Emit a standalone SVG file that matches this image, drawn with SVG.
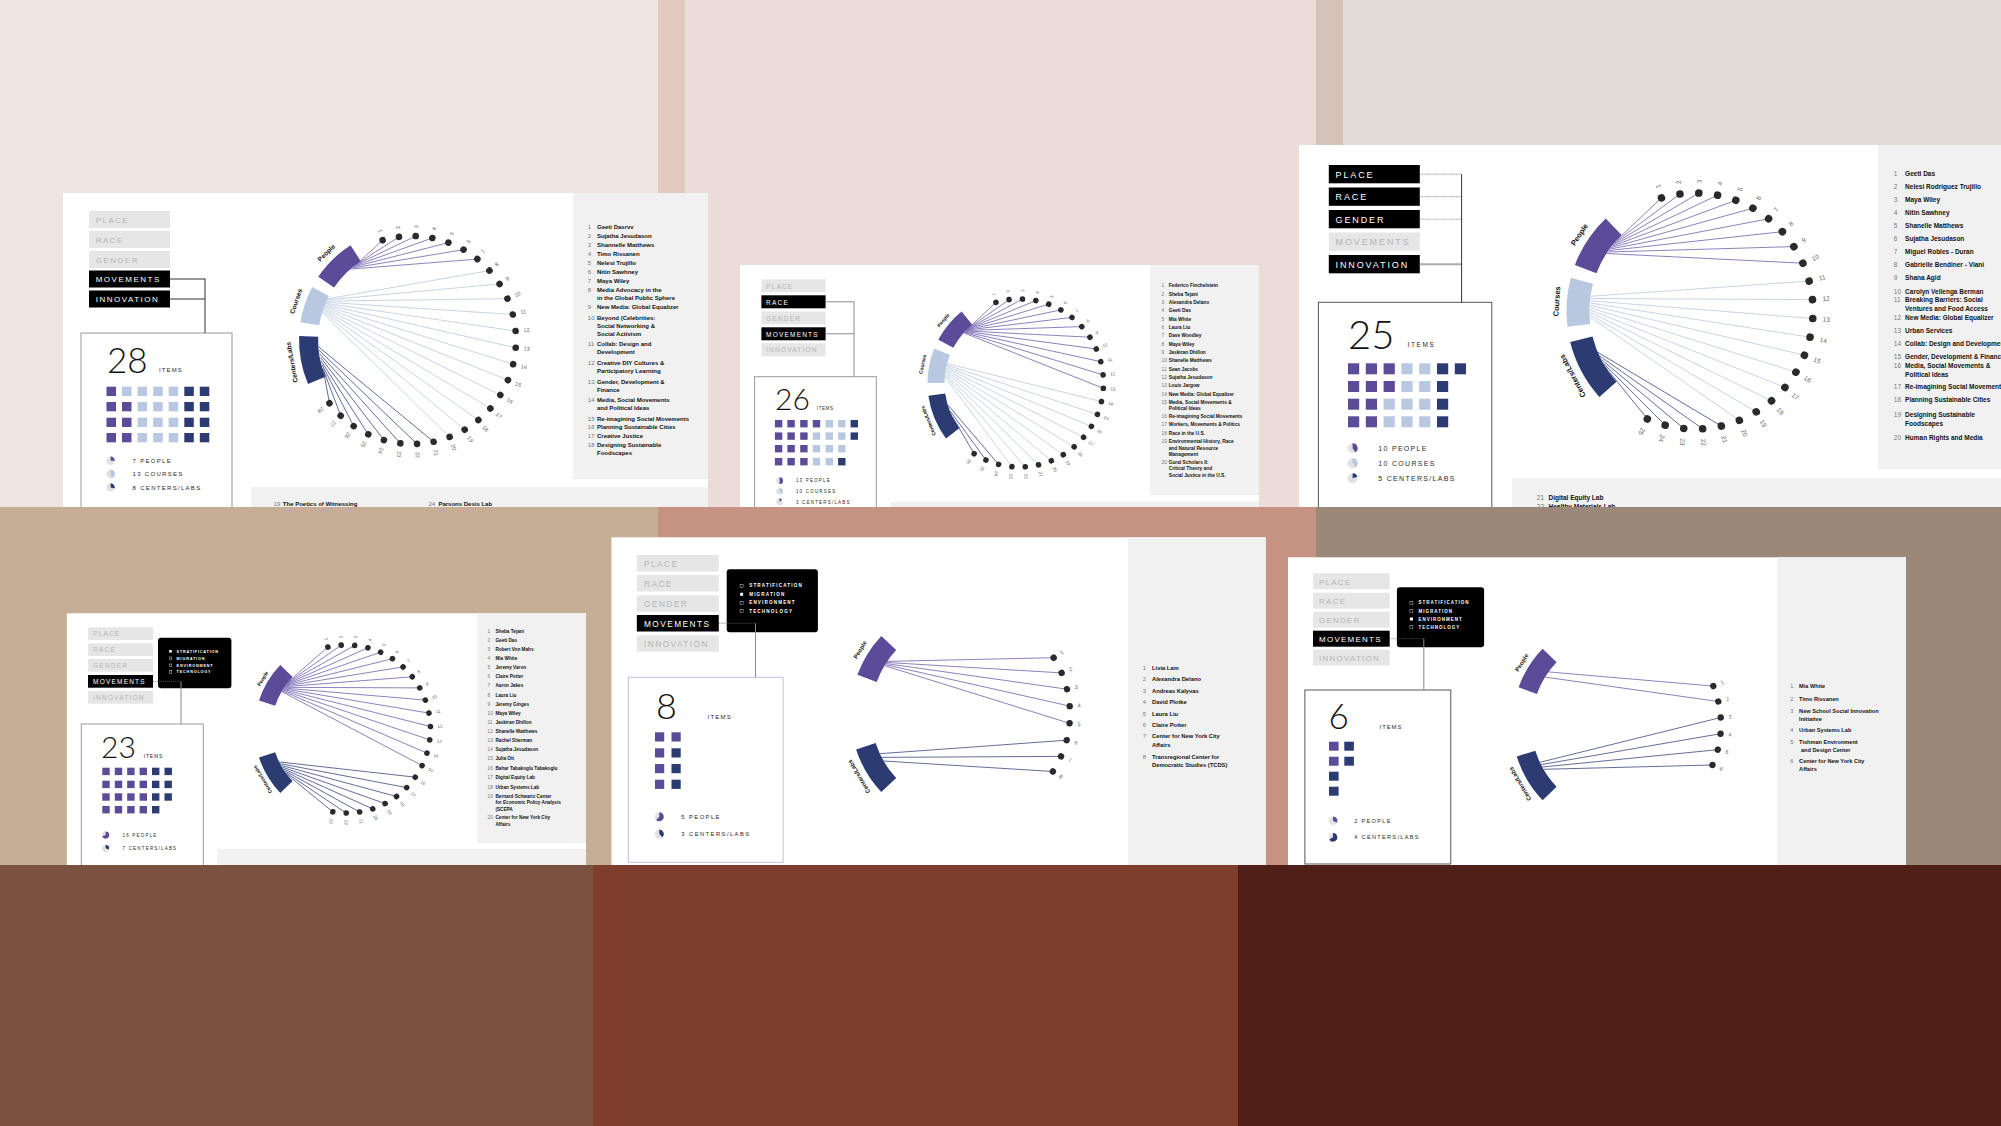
<svg xmlns="http://www.w3.org/2000/svg" width="2001" height="1126" viewBox="0 0 2001 1126">
<defs>
<clipPath id="ct"><rect x="0" y="0" width="2001" height="507"/></clipPath>
<clipPath id="cb"><rect x="0" y="0" width="2001" height="865"/></clipPath>
<style>
text{font-family:"Liberation Sans",Arial,sans-serif}
.gp{fill:#f1f1f1}
.bi{fill:#e6e6e6}
.ba{fill:#000}
.ti{fill:#b4b4b4}
.ta{fill:#fff}
.big{font-family:Lato,"Open Sans",sans-serif;font-weight:300;fill:#111}
.lg{fill:#2a2a2a}
.li{font-weight:bold;fill:#111}
.ln{fill:#777}
.P{fill:#5b4b98}.C{fill:#b7c8e0}.D{fill:#2c3c72}
.pb{fill:#e2e2e2}
.lp{stroke:#6f62ad;stroke-width:.8;fill:none}
.lc{stroke:#b9c9df;stroke-width:.8;fill:none}
.ld{stroke:#3a4882;stroke-width:.8;fill:none}
.cn{stroke:#333;stroke-width:1;fill:none}
.cg{stroke:#8a8a8a;stroke-width:1;fill:none}
.cd{stroke:#666;stroke-width:.8;stroke-dasharray:1 1;fill:none}
.nd circle{fill:#2a2a2a}
.nd text{fill:#666}
.al{font-weight:bold;fill:#111;text-anchor:middle}
.pt{fill:#fff;font-weight:bold}
.ck{fill:none;stroke:#fff;stroke-width:.4}
</style>
</defs>

<g id="background">
<rect x="0" y="0" width="658" height="507" fill="#efe5e0"/>
<rect x="658" y="0" width="27" height="507" fill="#e1c9bf"/>
<rect x="685" y="0" width="631" height="507" fill="#ecdcd8"/>
<rect x="1316" y="0" width="27" height="507" fill="#d5c3ba"/>
<rect x="1343" y="0" width="658" height="507" fill="#e0dbd5"/>
<rect x="0" y="507" width="658" height="358" fill="#c6ad96"/>
<rect x="658" y="507" width="658" height="358" fill="#c69282"/>
<rect x="1316" y="507" width="685" height="358" fill="#9c8878"/>
<rect x="0" y="865" width="593" height="261" fill="#7b5140"/>
<rect x="593" y="865" width="645" height="261" fill="#7e3d2d"/>
<rect x="1238" y="865" width="763" height="261" fill="#4e2018"/>
</g>

<!-- CARD 1 -->
<g id="card-1" clip-path="url(#ct)">
<rect x="63" y="193" width="645" height="320" fill="#fff"/>
<rect class="gp" x="573" y="193" width="135" height="286"/>
<rect class="gp" x="251" y="487" width="457" height="30"/>
<g font-size="8" letter-spacing="1.5">
<rect class="bi" x="89" y="211" width="81" height="17"/><text class="ti" x="95.7" y="222.5">PLACE</text>
<rect class="bi" x="89" y="231" width="81" height="17"/><text class="ti" x="95.7" y="242.5">RACE</text>
<rect class="bi" x="89" y="251" width="81" height="17"/><text class="ti" x="95.7" y="262.5">GENDER</text>
<rect class="ba" x="89" y="270.5" width="81" height="17"/><text class="ta" x="95.7" y="282">MOVEMENTS</text>
<rect class="ba" x="89" y="290.5" width="81" height="17"/><text class="ta" x="95.7" y="302">INNOVATION</text>
</g>
<rect x="81" y="333" width="151" height="200" fill="#fff" stroke="#999"/>
<text class="big" x="107" y="373" font-size="35">28</text>
<text class="lg" x="159" y="372" font-size="6" letter-spacing="1.1">ITEMS</text>
<g>
<rect class="P" x="106.5" y="386.7" width="9.5" height="9.3"/><rect class="C" x="122" y="386.7" width="9.5" height="9.3"/><rect class="C" x="137.6" y="386.7" width="9.5" height="9.3"/><rect class="C" x="153.2" y="386.7" width="9.5" height="9.3"/><rect class="C" x="168.7" y="386.7" width="9.5" height="9.3"/><rect class="D" x="184.3" y="386.7" width="9.5" height="9.3"/><rect class="D" x="199.8" y="386.7" width="9.5" height="9.3"/>
<rect class="P" x="106.5" y="402" width="9.5" height="9.3"/><rect class="P" x="122" y="402" width="9.5" height="9.3"/><rect class="C" x="137.6" y="402" width="9.5" height="9.3"/><rect class="C" x="153.2" y="402" width="9.5" height="9.3"/><rect class="C" x="168.7" y="402" width="9.5" height="9.3"/><rect class="D" x="184.3" y="402" width="9.5" height="9.3"/><rect class="D" x="199.8" y="402" width="9.5" height="9.3"/>
<rect class="P" x="106.5" y="417.7" width="9.5" height="9.3"/><rect class="P" x="122" y="417.7" width="9.5" height="9.3"/><rect class="C" x="137.6" y="417.7" width="9.5" height="9.3"/><rect class="C" x="153.2" y="417.7" width="9.5" height="9.3"/><rect class="C" x="168.7" y="417.7" width="9.5" height="9.3"/><rect class="D" x="184.3" y="417.7" width="9.5" height="9.3"/><rect class="D" x="199.8" y="417.7" width="9.5" height="9.3"/>
<rect class="P" x="106.5" y="433" width="9.5" height="9.3"/><rect class="P" x="122" y="433" width="9.5" height="9.3"/><rect class="C" x="137.6" y="433" width="9.5" height="9.3"/><rect class="C" x="153.2" y="433" width="9.5" height="9.3"/><rect class="C" x="168.7" y="433" width="9.5" height="9.3"/><rect class="D" x="184.3" y="433" width="9.5" height="9.3"/><rect class="D" x="199.8" y="433" width="9.5" height="9.3"/>
</g>
<g transform="translate(110.6,460.7)"><circle class="pb" r="4.2"/><path class="P" d="M0,0 L0,-4.2 A4.2,4.2 0 0 1 4.2,0 Z"/></g>
<g transform="translate(110.6,474)"><circle class="pb" r="4.2"/><path class="C" d="M0,0 L0,-4.2 A4.2,4.2 0 0 1 0.95,4.09 Z"/></g>
<g transform="translate(110.6,487.5)"><circle class="pb" r="4.2"/><path class="D" d="M0,0 L0,-4.2 A4.2,4.2 0 0 1 4.09,0.95 Z"/></g>
<g class="lg" font-size="6" letter-spacing="1.3">
<text x="132.6" y="463">7 PEOPLE</text>
<text x="132.6" y="476.3">13 COURSES</text>
<text x="132.6" y="489.7">8 CENTERS/LABS</text>
</g>
<path class="P" d="M318.3,276.8 A113,113 0 0 1 350.5,245.2 L360.8,261.2 A94,94 0 0 0 334.1,287.4 Z"/>
<path class="C" d="M300.4,322.3 A113,113 0 0 1 312.2,286.9 L329,295.9 A94,94 0 0 0 319.2,325.3 Z"/>
<path class="D" d="M308,384.1 A113,113 0 0 1 299.1,336.1 L318.1,336.7 A94,94 0 0 0 325.5,376.7 Z"/>
<g transform="translate(412,340)" font-size="6.5">
<text class="al" transform="rotate(225.5) translate(120,0) rotate(90)">People</text>
<text class="al" transform="rotate(198.5) translate(120,0) rotate(90)">Courses</text>
<text class="al" transform="rotate(169.5) translate(120,0) rotate(90)">Centers/Labs</text>
</g>
<g font-size="6">
<text class="ln" x="587.8" y="228.7">1</text><text class="li" x="597" y="228.7">Geeti Dasrvv</text>
<text class="ln" x="587.8" y="237.7">2</text><text class="li" x="597" y="237.7">Sujatha Jesudason</text>
<text class="ln" x="587.8" y="246.7">3</text><text class="li" x="597" y="246.7">Shannelle Matthews</text>
<text class="ln" x="587.8" y="255.7">4</text><text class="li" x="597" y="255.7">Timo Rissanen</text>
<text class="ln" x="587.8" y="264.7">5</text><text class="li" x="597" y="264.7">Nelesi Trujillo</text>
<text class="ln" x="587.8" y="273.7">6</text><text class="li" x="597" y="273.7">Nitin Sawhney</text>
<text class="ln" x="587.8" y="282.7">7</text><text class="li" x="597" y="282.7">Maya Wiley</text>
<text class="ln" x="587.8" y="291.7">8</text><text class="li" x="597" y="291.7">Media Advocacy in the</text><text class="li" x="597" y="299.7">in the Global Public Sphere</text>
<text class="ln" x="587.8" y="309.3">9</text><text class="li" x="597" y="309.3">New Media: Global Equalizer</text>
<text class="ln" x="587.8" y="319.7">10</text><text class="li" x="597" y="319.7">Beyond (Celebrities:</text><text class="li" x="597" y="327.7">Social Networking &amp;</text><text class="li" x="597" y="335.7">Social Activism</text>
<text class="ln" x="587.8" y="346.3">11</text><text class="li" x="597" y="346.3">Collab: Design and</text><text class="li" x="597" y="354.3">Development</text>
<text class="ln" x="587.8" y="365">12</text><text class="li" x="597" y="365">Creative DIY Cultures &amp;</text><text class="li" x="597" y="373">Participatory Learning</text>
<text class="ln" x="587.8" y="383.7">13</text><text class="li" x="597" y="383.7">Gender, Development &amp;</text><text class="li" x="597" y="391.7">Finance</text>
<text class="ln" x="587.8" y="402">14</text><text class="li" x="597" y="402">Media, Social Movements</text><text class="li" x="597" y="410">and Political Ideas</text>
<text class="ln" x="587.8" y="420.7">15</text><text class="li" x="597" y="420.7">Re-imagining Social Movements</text>
<text class="ln" x="587.8" y="429.3">16</text><text class="li" x="597" y="429.3">Planning Sustainable Cities</text>
<text class="ln" x="587.8" y="438.3">17</text><text class="li" x="597" y="438.3">Creative Justice</text>
<text class="ln" x="587.8" y="447.3">18</text><text class="li" x="597" y="447.3">Designing Sustainable</text><text class="li" x="597" y="455.3">Foodscapes</text>
<text class="ln" x="273.7" y="506.3">19</text><text class="li" x="282.8" y="506.3">The Poetics of Witnessing</text>
<text class="ln" x="428.5" y="506.3">24</text><text class="li" x="438.4" y="506.3">Parsons Desis Lab</text>
</g>
</g>

<!-- CARD 2 -->
<g id="card-2" clip-path="url(#ct)">
<rect x="740" y="265" width="519" height="250" fill="#fff"/>
<rect class="gp" x="1150" y="265" width="109" height="230"/>
<rect class="gp" x="890.5" y="501.7" width="368.5" height="10"/>
<g font-size="6.5" letter-spacing="1.2">
<rect class="bi" x="761.4" y="279.3" width="64.2" height="13"/><text class="ti" x="766.1" y="288.5">PLACE</text>
<rect class="ba" x="761.4" y="295.3" width="64.2" height="13"/><text class="ta" x="766.1" y="304.5">RACE</text>
<rect class="bi" x="761.4" y="311.4" width="64.2" height="13"/><text class="ti" x="766.1" y="320.6">GENDER</text>
<rect class="ba" x="761.4" y="327.3" width="64.2" height="13"/><text class="ta" x="766.1" y="336.5">MOVEMENTS</text>
<rect class="bi" x="761.4" y="343.2" width="64.2" height="13"/><text class="ti" x="766.1" y="352.4">INNOVATION</text>
</g>
<rect x="754.6" y="376.7" width="121.7" height="140" fill="#fff" stroke="#999"/>
<text class="big" x="775" y="410" font-size="30">26</text>
<text class="lg" x="816.8" y="409.5" font-size="4.5" letter-spacing="0.6">ITEMS</text>
<g>
<rect class="P" x="774.9" y="420" width="7.4" height="7.4"/><rect class="P" x="787.4" y="420" width="7.4" height="7.4"/><rect class="P" x="800.2" y="420" width="7.4" height="7.4"/><rect class="P" x="812.8" y="420" width="7.4" height="7.4"/><rect class="C" x="825.6" y="420" width="7.4" height="7.4"/><rect class="C" x="838.1" y="420" width="7.4" height="7.4"/><rect class="D" x="850.6" y="420" width="7.4" height="7.4"/>
<rect class="P" x="774.9" y="432.4" width="7.4" height="7.4"/><rect class="P" x="787.4" y="432.4" width="7.4" height="7.4"/><rect class="P" x="800.2" y="432.4" width="7.4" height="7.4"/><rect class="C" x="812.8" y="432.4" width="7.4" height="7.4"/><rect class="C" x="825.6" y="432.4" width="7.4" height="7.4"/><rect class="C" x="838.1" y="432.4" width="7.4" height="7.4"/><rect class="D" x="850.6" y="432.4" width="7.4" height="7.4"/>
<rect class="P" x="774.9" y="445" width="7.4" height="7.4"/><rect class="P" x="787.4" y="445" width="7.4" height="7.4"/><rect class="P" x="800.2" y="445" width="7.4" height="7.4"/><rect class="C" x="812.8" y="445" width="7.4" height="7.4"/><rect class="C" x="825.6" y="445" width="7.4" height="7.4"/><rect class="C" x="838.1" y="445" width="7.4" height="7.4"/>
<rect class="P" x="774.9" y="458" width="7.4" height="7.4"/><rect class="P" x="787.4" y="458" width="7.4" height="7.4"/><rect class="P" x="800.2" y="458" width="7.4" height="7.4"/><rect class="C" x="812.8" y="458" width="7.4" height="7.4"/><rect class="C" x="825.6" y="458" width="7.4" height="7.4"/><rect class="D" x="838.1" y="458" width="7.4" height="7.4"/>
</g>
<g transform="translate(779.6,480.7)"><circle class="pb" r="3.4"/><path class="P" d="M0,0 L0,-3.4 A3.4,3.4 0 0 1 0,3.4 Z"/></g>
<g transform="translate(779.6,491.3)"><circle class="pb" r="3.4"/><path class="C" d="M0,0 L0,-3.4 A3.4,3.4 0 0 1 2.27,2.53 Z"/></g>
<g transform="translate(779.6,502)"><circle class="pb" r="3.4"/><path class="D" d="M0,0 L0,-3.4 A3.4,3.4 0 0 1 2.25,-2.55 Z"/></g>
<g class="lg" font-size="4.5" letter-spacing="1.2">
<text x="795.9" y="482.4">13 PEOPLE</text>
<text x="795.9" y="493">10 COURSES</text>
<text x="795.9" y="503.7">3 CENTERS/LABS</text>
</g>
<path class="P" d="M938.3,339.8 A92,92 0 0 1 961.6,311.5 L972.3,324.7 A75,75 0 0 0 953.3,347.8 Z"/>
<path class="C" d="M927.5,383 A92,92 0 0 1 934.2,348.5 L950,354.9 A75,75 0 0 0 944.5,383 Z"/>
<path class="D" d="M946,438.4 A92,92 0 0 1 928.4,395.8 L945.2,393.4 A75,75 0 0 0 959.6,428.1 Z"/>
<g transform="translate(1019.5,383)" font-size="5">
<text class="al" transform="rotate(219.5) translate(97,0) rotate(90)">People</text>
<text class="al" transform="rotate(191) translate(97,0) rotate(90)">Courses</text>
<text class="al" transform="rotate(157.5) translate(97,0) rotate(90)">Centers/Labs</text>
</g>
<g font-size="4.8">
<text class="ln" x="1161.6" y="287.3">1</text><text class="li" x="1168.7" y="287.3">Federico Finchelstein</text>
<text class="ln" x="1161.6" y="295.6">2</text><text class="li" x="1168.7" y="295.6">Sheba Tejani</text>
<text class="ln" x="1161.6" y="303.9">3</text><text class="li" x="1168.7" y="303.9">Alexandra Delano</text>
<text class="ln" x="1161.6" y="312.3">4</text><text class="li" x="1168.7" y="312.3">Geeti Das</text>
<text class="ln" x="1161.6" y="320.6">5</text><text class="li" x="1168.7" y="320.6">Mia White</text>
<text class="ln" x="1161.6" y="328.9">6</text><text class="li" x="1168.7" y="328.9">Laura Liu</text>
<text class="ln" x="1161.6" y="337.3">7</text><text class="li" x="1168.7" y="337.3">Dave Woodley</text>
<text class="ln" x="1161.6" y="345.6">8</text><text class="li" x="1168.7" y="345.6">Maya Wiley</text>
<text class="ln" x="1161.6" y="353.9">9</text><text class="li" x="1168.7" y="353.9">Jaskiran Dhillon</text>
<text class="ln" x="1161.6" y="362.3">10</text><text class="li" x="1168.7" y="362.3">Shanelle Matthews</text>
<text class="ln" x="1161.6" y="370.6">11</text><text class="li" x="1168.7" y="370.6">Sean Jacobs</text>
<text class="ln" x="1161.6" y="378.9">12</text><text class="li" x="1168.7" y="378.9">Sujatha Jesudason</text>
<text class="ln" x="1161.6" y="387.3">13</text><text class="li" x="1168.7" y="387.3">Louis Jargow</text>
<text class="ln" x="1161.6" y="395.9">14</text><text class="li" x="1168.7" y="395.9">New Media: Global Equalizer</text>
<text class="ln" x="1161.6" y="403.6">15</text><text class="li" x="1168.7" y="403.6">Media, Social Movements &amp;</text><text class="li" x="1168.7" y="410.3">Political Ideas</text>
<text class="ln" x="1161.6" y="417.9">16</text><text class="li" x="1168.7" y="417.9">Re-imagining Social Movements</text>
<text class="ln" x="1161.6" y="426.3">17</text><text class="li" x="1168.7" y="426.3">Workers, Movements &amp; Politics</text>
<text class="ln" x="1161.6" y="434.6">18</text><text class="li" x="1168.7" y="434.6">Race in the U.S.</text>
<text class="ln" x="1161.6" y="442.9">19</text><text class="li" x="1168.7" y="442.9">Environmental History, Race</text><text class="li" x="1168.7" y="449.6">and Natural Resource</text><text class="li" x="1168.7" y="456.3">Management</text>
<text class="ln" x="1161.6" y="463.6">20</text><text class="li" x="1168.7" y="463.6">Gural Scholars II:</text><text class="li" x="1168.7" y="470.3">Critical Theory and</text><text class="li" x="1168.7" y="476.9">Social Justice in the U.S.</text>
</g>
</g>

<!-- CARD 3 -->
<g id="card-3" clip-path="url(#ct)">
<rect x="1299" y="145" width="702" height="370" fill="#fff"/>
<rect class="gp" x="1878" y="145" width="123" height="324.3"/>
<rect class="gp" x="1512" y="478.3" width="489" height="35"/>
<g font-size="9" letter-spacing="1.9">
<rect class="ba" x="1328.8" y="165" width="91" height="18.3"/><text class="ta" x="1335.5" y="177.7">PLACE</text>
<rect class="ba" x="1328.8" y="187.5" width="91" height="18.3"/><text class="ta" x="1335.5" y="200.2">RACE</text>
<rect class="ba" x="1328.8" y="210" width="91" height="18.3"/><text class="ta" x="1335.5" y="222.7">GENDER</text>
<rect class="bi" x="1328.8" y="232.5" width="91" height="18.3"/><text class="ti" x="1335.5" y="245.2">MOVEMENTS</text>
<rect class="ba" x="1328.8" y="255" width="91" height="18.3"/><text class="ta" x="1335.5" y="267.7">INNOVATION</text>
</g>
<rect x="1318.4" y="302.3" width="173.4" height="220" fill="#fff" stroke="#555"/>
<text class="big" x="1348" y="349.3" font-size="40">25</text>
<text class="lg" x="1407.6" y="346.7" font-size="6.5" letter-spacing="1.6">ITEMS</text>
<g>
<rect class="P" x="1348" y="363.3" width="11.2" height="11"/><rect class="P" x="1365.8" y="363.3" width="11.2" height="11"/><rect class="P" x="1383.6" y="363.3" width="11.2" height="11"/><rect class="C" x="1401.4" y="363.3" width="11.2" height="11"/><rect class="C" x="1419.2" y="363.3" width="11.2" height="11"/><rect class="D" x="1437" y="363.3" width="11.2" height="11"/><rect class="D" x="1454.8" y="363.3" width="11.2" height="11"/>
<rect class="P" x="1348" y="381" width="11.2" height="11"/><rect class="P" x="1365.8" y="381" width="11.2" height="11"/><rect class="P" x="1383.6" y="381" width="11.2" height="11"/><rect class="C" x="1401.4" y="381" width="11.2" height="11"/><rect class="C" x="1419.2" y="381" width="11.2" height="11"/><rect class="D" x="1437" y="381" width="11.2" height="11"/>
<rect class="P" x="1348" y="398.7" width="11.2" height="11"/><rect class="P" x="1365.8" y="398.7" width="11.2" height="11"/><rect class="C" x="1383.6" y="398.7" width="11.2" height="11"/><rect class="C" x="1401.4" y="398.7" width="11.2" height="11"/><rect class="C" x="1419.2" y="398.7" width="11.2" height="11"/><rect class="D" x="1437" y="398.7" width="11.2" height="11"/>
<rect class="P" x="1348" y="416.3" width="11.2" height="11"/><rect class="P" x="1365.8" y="416.3" width="11.2" height="11"/><rect class="C" x="1383.6" y="416.3" width="11.2" height="11"/><rect class="C" x="1401.4" y="416.3" width="11.2" height="11"/><rect class="C" x="1419.2" y="416.3" width="11.2" height="11"/><rect class="D" x="1437" y="416.3" width="11.2" height="11"/>
</g>
<g transform="translate(1352.6,448.3)"><circle class="pb" r="5"/><path class="P" d="M0,0 L0,-5 A5,5 0 0 1 2.94,4.05 Z"/></g>
<g transform="translate(1352.6,463.3)"><circle class="pb" r="5"/><path class="C" d="M0,0 L0,-5 A5,5 0 0 1 2.94,4.05 Z"/></g>
<g transform="translate(1352.6,478.3)"><circle class="pb" r="5"/><path class="D" d="M0,0 L0,-5 A5,5 0 0 1 4.76,-1.55 Z"/></g>
<g class="lg" font-size="7" letter-spacing="1.3">
<text x="1378.3" y="450.8">10 PEOPLE</text>
<text x="1378.3" y="465.8">10 COURSES</text>
<text x="1378.3" y="480.8">5 CENTERS/LABS</text>
</g>
<path class="P" d="M1574.9,264.9 A128.6,128.6 0 0 1 1605.7,218.5 L1621.6,235 A105.6,105.6 0 0 0 1596.4,273.2 Z"/>
<path class="C" d="M1567.4,326.7 A128.6,128.6 0 0 1 1570.8,277.7 L1593,283.7 A105.6,105.6 0 0 0 1590.2,323.9 Z"/>
<path class="D" d="M1599.4,397 A128.6,128.6 0 0 1 1570.2,342.1 L1592.5,336.5 A105.6,105.6 0 0 0 1616.5,381.7 Z"/>
<g transform="translate(1695,311)" font-size="7.5">
<text class="al" transform="rotate(213.5) translate(136,0) rotate(90)">People</text>
<text class="al" transform="rotate(184) translate(136,0) rotate(90)">Courses</text>
<text class="al" transform="rotate(152) translate(136,0) rotate(90)">Centers/Labs</text>
</g>
<g font-size="6.5">
<text class="ln" x="1893.8" y="175.6">1</text><text class="li" x="1905.1" y="175.6">Geeti Das</text>
<text class="ln" x="1893.8" y="188.6">2</text><text class="li" x="1905.1" y="188.6">Nelesi Rodriguez Trujillo</text>
<text class="ln" x="1893.8" y="202">3</text><text class="li" x="1905.1" y="202">Maya Wiley</text>
<text class="ln" x="1893.8" y="215">4</text><text class="li" x="1905.1" y="215">Nitin Sawhney</text>
<text class="ln" x="1893.8" y="228">5</text><text class="li" x="1905.1" y="228">Shanelle Matthews</text>
<text class="ln" x="1893.8" y="241">6</text><text class="li" x="1905.1" y="241">Sujatha Jesudason</text>
<text class="ln" x="1893.8" y="254.3">7</text><text class="li" x="1905.1" y="254.3">Miguel Robles - Duran</text>
<text class="ln" x="1893.8" y="267.3">8</text><text class="li" x="1905.1" y="267.3">Gabrielle Bendiner - Viani</text>
<text class="ln" x="1893.8" y="280.3">9</text><text class="li" x="1905.1" y="280.3">Shana Agid</text>
<text class="ln" x="1893.8" y="293.6">10</text><text class="li" x="1905.1" y="293.6">Carolyn Vellenga Berman</text>
<text class="ln" x="1893.8" y="302">11</text><text class="li" x="1905.1" y="302">Breaking Barriers: Social</text><text class="li" x="1905.1" y="311">Ventures and Food Access</text>
<text class="ln" x="1893.8" y="320">12</text><text class="li" x="1905.1" y="320">New Media: Global Equalizer</text>
<text class="ln" x="1893.8" y="333">13</text><text class="li" x="1905.1" y="333">Urban Services</text>
<text class="ln" x="1893.8" y="346">14</text><text class="li" x="1905.1" y="346">Collab: Design and Development</text>
<text class="ln" x="1893.8" y="359">15</text><text class="li" x="1905.1" y="359">Gender, Development &amp; Finance</text>
<text class="ln" x="1893.8" y="367.6">16</text><text class="li" x="1905.1" y="367.6">Media, Social Movements &amp;</text><text class="li" x="1905.1" y="376.6">Political Ideas</text>
<text class="ln" x="1893.8" y="389.3">17</text><text class="li" x="1905.1" y="389.3">Re-imagining Social Movements</text>
<text class="ln" x="1893.8" y="402.3">18</text><text class="li" x="1905.1" y="402.3">Planning Sustainable Cities</text>
<text class="ln" x="1893.8" y="416.6">19</text><text class="li" x="1905.1" y="416.6">Designing Sustainable</text><text class="li" x="1905.1" y="425.6">Foodscapes</text>
<text class="ln" x="1893.8" y="440">20</text><text class="li" x="1905.1" y="440">Human Rights and Media</text>
<text class="ln" x="1536.8" y="499.5">21</text><text class="li" x="1548.5" y="499.5">Digital Equity Lab</text>
<text class="ln" x="1536.8" y="509">22</text><text class="li" x="1548.5" y="509">Healthy Materials Lab</text>
</g>
</g>

<!-- CARD 4 -->
<g id="card-4" clip-path="url(#cb)">
<rect x="66.8" y="613.3" width="519.2" height="260" fill="#fff"/>
<rect class="gp" x="477.5" y="613.3" width="108.5" height="230"/>
<rect class="gp" x="217.2" y="849" width="368.8" height="20"/>
<g font-size="6.5" letter-spacing="1.2">
<rect class="bi" x="88" y="627.3" width="65" height="12.7"/><text class="ti" x="93.1" y="636.3">PLACE</text>
<rect class="bi" x="88" y="643.3" width="65" height="12.7"/><text class="ti" x="93.1" y="652.3">RACE</text>
<rect class="bi" x="88" y="659" width="65" height="12.7"/><text class="ti" x="93.1" y="668">GENDER</text>
<rect class="ba" x="88" y="675" width="65" height="12.7"/><text class="ta" x="93.1" y="684">MOVEMENTS</text>
<rect class="bi" x="88" y="691" width="65" height="12.7"/><text class="ti" x="93.1" y="700">INNOVATION</text>
</g>
<rect x="158" y="637.7" width="73.4" height="50.6" rx="3" fill="#000"/>
<rect x="169.2" y="650" width="2.6" height="2.6" fill="#fff"/>
<rect class="ck" x="169.2" y="657" width="2.6" height="2.6"/>
<rect class="ck" x="169.2" y="664" width="2.6" height="2.6"/>
<rect class="ck" x="169.2" y="670.7" width="2.6" height="2.6"/>
<g class="pt" font-size="3.8" letter-spacing="0.8">
<text x="176.6" y="652.6">STRATIFICATION</text>
<text x="176.6" y="659.6">MIGRATION</text>
<text x="176.6" y="666.6">ENVIRONMENT</text>
<text x="176.6" y="673.3">TECHNOLOGY</text>
</g>
<rect x="81.3" y="724" width="122" height="150" fill="#fff" stroke="#999"/>
<text class="big" x="101" y="758.3" font-size="30">23</text>
<text class="lg" x="143.8" y="757.5" font-size="5" letter-spacing="0.8">ITEMS</text>
<g>
<rect class="P" x="102.3" y="767.7" width="7.4" height="7.4"/><rect class="P" x="114.8" y="767.7" width="7.4" height="7.4"/><rect class="P" x="127.2" y="767.7" width="7.4" height="7.4"/><rect class="P" x="139.6" y="767.7" width="7.4" height="7.4"/><rect class="D" x="152" y="767.7" width="7.4" height="7.4"/><rect class="D" x="164.5" y="767.7" width="7.4" height="7.4"/>
<rect class="P" x="102.3" y="780.7" width="7.4" height="7.4"/><rect class="P" x="114.8" y="780.7" width="7.4" height="7.4"/><rect class="P" x="127.2" y="780.7" width="7.4" height="7.4"/><rect class="P" x="139.6" y="780.7" width="7.4" height="7.4"/><rect class="D" x="152" y="780.7" width="7.4" height="7.4"/><rect class="D" x="164.5" y="780.7" width="7.4" height="7.4"/>
<rect class="P" x="102.3" y="793.3" width="7.4" height="7.4"/><rect class="P" x="114.8" y="793.3" width="7.4" height="7.4"/><rect class="P" x="127.2" y="793.3" width="7.4" height="7.4"/><rect class="P" x="139.6" y="793.3" width="7.4" height="7.4"/><rect class="D" x="152" y="793.3" width="7.4" height="7.4"/><rect class="D" x="164.5" y="793.3" width="7.4" height="7.4"/>
<rect class="P" x="102.3" y="806" width="7.4" height="7.4"/><rect class="P" x="114.8" y="806" width="7.4" height="7.4"/><rect class="P" x="127.2" y="806" width="7.4" height="7.4"/><rect class="P" x="139.6" y="806" width="7.4" height="7.4"/><rect class="D" x="152" y="806" width="7.4" height="7.4"/>
</g>
<g transform="translate(105.6,835)"><circle class="pb" r="3.6"/><path class="P" d="M0,0 L0,-3.6 A3.6,3.6 0 1 1 -3.38,1.23 Z"/></g>
<g transform="translate(105.6,848.3)"><circle class="pb" r="3.6"/><path class="D" d="M0,0 L0,-3.6 A3.6,3.6 0 0 1 3.38,1.23 Z"/></g>
<g class="lg" font-size="4.5" letter-spacing="1.2">
<text x="122.5" y="836.7">16 PEOPLE</text>
<text x="122.5" y="850">7 CENTERS/LABS</text>
</g>
<path class="P" d="M259,700.6 A92,92 0 0 1 280.3,665.1 L292.6,676.9 A75,75 0 0 0 275.2,705.8 Z"/>
<path class="D" d="M280.3,792.9 A92,92 0 0 1 259,757.4 L275.2,752.2 A75,75 0 0 0 292.6,781.1 Z"/>
<g transform="translate(346.5,729)" font-size="5">
<text class="al" transform="rotate(211) translate(96,0) rotate(90)">People</text>
<text class="al" transform="rotate(149) translate(96,0) rotate(90)">Centers/Labs</text>
</g>
<g font-size="4.7">
<text class="ln" x="487.6" y="632.6">1</text><text class="li" x="495.4" y="632.6">Sheba Tejani</text>
<text class="ln" x="487.6" y="641.9">2</text><text class="li" x="495.4" y="641.9">Geeti Das</text>
<text class="ln" x="487.6" y="650.9">3</text><text class="li" x="495.4" y="650.9">Robert Von Mahs</text>
<text class="ln" x="487.6" y="659.9">4</text><text class="li" x="495.4" y="659.9">Mia White</text>
<text class="ln" x="487.6" y="669.3">5</text><text class="li" x="495.4" y="669.3">Jeremy Varon</text>
<text class="ln" x="487.6" y="678.3">6</text><text class="li" x="495.4" y="678.3">Claire Potter</text>
<text class="ln" x="487.6" y="687.3">7</text><text class="li" x="495.4" y="687.3">Aaron Jakes</text>
<text class="ln" x="487.6" y="696.6">8</text><text class="li" x="495.4" y="696.6">Laura Liu</text>
<text class="ln" x="487.6" y="705.6">9</text><text class="li" x="495.4" y="705.6">Jeremy Ginges</text>
<text class="ln" x="487.6" y="714.9">10</text><text class="li" x="495.4" y="714.9">Maya Wiley</text>
<text class="ln" x="487.6" y="723.9">11</text><text class="li" x="495.4" y="723.9">Jaskiran Dhillon</text>
<text class="ln" x="487.6" y="732.9">12</text><text class="li" x="495.4" y="732.9">Shanelle Matthews</text>
<text class="ln" x="487.6" y="741.9">13</text><text class="li" x="495.4" y="741.9">Rachel Sherman</text>
<text class="ln" x="487.6" y="751.3">14</text><text class="li" x="495.4" y="751.3">Sujatha Jesudason</text>
<text class="ln" x="487.6" y="760.3">15</text><text class="li" x="495.4" y="760.3">Julia Ott</text>
<text class="ln" x="487.6" y="769.6">16</text><text class="li" x="495.4" y="769.6">Bahar Tabakoglu Tabakoglu</text>
<text class="ln" x="487.6" y="779.3">17</text><text class="li" x="495.4" y="779.3">Digital Equity Lab</text>
<text class="ln" x="487.6" y="788.6">18</text><text class="li" x="495.4" y="788.6">Urban Systems Lab</text>
<text class="ln" x="487.6" y="797.6">19</text><text class="li" x="495.4" y="797.6">Bernard Schwartz Center</text><text class="li" x="495.4" y="804">for Economic Policy Analysis</text><text class="li" x="495.4" y="810.6">(SCEPA</text>
<text class="ln" x="487.6" y="819.3">20</text><text class="li" x="495.4" y="819.3">Center for New York City</text><text class="li" x="495.4" y="825.9">Affairs</text>
</g>
</g>

<!-- CARD 5 -->
<g id="card-5" clip-path="url(#cb)">
<rect x="611.4" y="537.3" width="654.3" height="340" fill="#fff"/>
<rect class="gp" x="1128" y="537.3" width="137.7" height="340"/>
<g font-size="8.3" letter-spacing="1.45">
<rect class="bi" x="636.8" y="555" width="82" height="16.5"/><text class="ti" x="644" y="566.6">PLACE</text>
<rect class="bi" x="636.8" y="575" width="82" height="16.5"/><text class="ti" x="644" y="586.6">RACE</text>
<rect class="bi" x="636.8" y="595.3" width="82" height="16.5"/><text class="ti" x="644" y="606.9">GENDER</text>
<rect class="ba" x="636.8" y="615" width="82" height="16.5"/><text class="ta" x="644" y="626.6">MOVEMENTS</text>
<rect class="bi" x="636.8" y="635.3" width="82" height="16.5"/><text class="ti" x="644" y="646.9">INNOVATION</text>
</g>
<rect x="726.7" y="569.3" width="91.2" height="63" rx="3" fill="#000"/>
<rect class="ck" x="740.1" y="584.2" width="3" height="3"/>
<rect x="740.1" y="592.8" width="3" height="3" fill="#fff"/>
<rect class="ck" x="740.1" y="601.2" width="3" height="3"/>
<rect class="ck" x="740.1" y="609.8" width="3" height="3"/>
<g class="pt" font-size="4.6" letter-spacing="1.15">
<text x="749.2" y="587.3">STRATIFICATION</text>
<text x="749.2" y="595.9">MIGRATION</text>
<text x="749.2" y="604.3">ENVIRONMENT</text>
<text x="749.2" y="612.9">TECHNOLOGY</text>
</g>
<rect x="628.3" y="677.3" width="154.8" height="185" fill="#fff" stroke="#c5bde3"/>
<text class="big" x="656" y="719.3" font-size="36">8</text>
<text class="lg" x="707.6" y="719" font-size="6" letter-spacing="1.2">ITEMS</text>
<g>
<rect class="P" x="655" y="732.3" width="9.2" height="9.2"/><rect class="P" x="671.5" y="732.3" width="9.2" height="9.2"/>
<rect class="P" x="655" y="748.3" width="9.2" height="9.2"/><rect class="D" x="671.5" y="748.3" width="9.2" height="9.2"/>
<rect class="P" x="655" y="764" width="9.2" height="9.2"/><rect class="D" x="671.5" y="764" width="9.2" height="9.2"/>
<rect class="P" x="655" y="779.7" width="9.2" height="9.2"/><rect class="D" x="671.5" y="779.7" width="9.2" height="9.2"/>
</g>
<g transform="translate(659.3,816.7)"><circle class="pb" r="4.5"/><path class="P" d="M0,0 L0,-4.5 A4.5,4.5 0 1 1 -3.18,3.18 Z"/></g>
<g transform="translate(659.3,834)"><circle class="pb" r="4.5"/><path class="D" d="M0,0 L0,-4.5 A4.5,4.5 0 0 1 3.18,3.18 Z"/></g>
<g class="lg" font-size="5.8" letter-spacing="1.45">
<text x="681.3" y="818.8">5 PEOPLE</text>
<text x="681.3" y="836.1">3 CENTERS/LABS</text>
</g>
<path class="P" d="M857.4,674.8 A114.5,114.5 0 0 1 881.3,635.9 L896.2,649.9 A94,94 0 0 0 876.7,681.9 Z"/>
<path class="D" d="M881.3,792.1 A114.5,114.5 0 0 1 856.1,749.4 L875.6,743 A94,94 0 0 0 896.2,778.1 Z"/>
<g transform="translate(965,714)" font-size="6">
<text class="al" transform="rotate(211.5) translate(121,0) rotate(90)">People</text>
<text class="al" transform="rotate(149.5) translate(121,0) rotate(90)">Centers/Labs</text>
</g>
<g font-size="5.8">
<text class="ln" x="1142.7" y="669.7">1</text><text class="li" x="1152" y="669.7">Livia Lam</text>
<text class="ln" x="1142.7" y="681.3">2</text><text class="li" x="1152" y="681.3">Alexandra Delano</text>
<text class="ln" x="1142.7" y="693">3</text><text class="li" x="1152" y="693">Andreas Kalyvas</text>
<text class="ln" x="1142.7" y="704.3">4</text><text class="li" x="1152" y="704.3">David Plotke</text>
<text class="ln" x="1142.7" y="715.7">5</text><text class="li" x="1152" y="715.7">Laura Liu</text>
<text class="ln" x="1142.7" y="727">6</text><text class="li" x="1152" y="727">Claire Potter</text>
<text class="ln" x="1142.7" y="738.3">7</text><text class="li" x="1152" y="738.3">Center for New York City</text><text class="li" x="1152" y="746.7">Affairs</text>
<text class="ln" x="1142.7" y="758.7">8</text><text class="li" x="1152" y="758.7">Transregional Center for</text><text class="li" x="1152" y="766.7">Democratic Studies (TCDS)</text>
</g>
</g>

<!-- CARD 6 -->
<g id="card-6" clip-path="url(#cb)">
<rect x="1288" y="557.3" width="618" height="320" fill="#fff"/>
<rect class="gp" x="1777" y="557.3" width="129" height="320"/>
<g font-size="8" letter-spacing="1.25">
<rect class="bi" x="1313" y="573.3" width="76.7" height="16"/><text class="ti" x="1319" y="584.5">PLACE</text>
<rect class="bi" x="1313" y="592.7" width="76.7" height="16"/><text class="ti" x="1319" y="603.9">RACE</text>
<rect class="bi" x="1313" y="611.7" width="76.7" height="16"/><text class="ti" x="1319" y="622.9">GENDER</text>
<rect class="ba" x="1313" y="630.7" width="76.7" height="16"/><text class="ta" x="1319" y="641.9">MOVEMENTS</text>
<rect class="bi" x="1313" y="649.5" width="76.7" height="16"/><text class="ti" x="1319" y="660.7">INNOVATION</text>
</g>
<rect x="1396.9" y="587.3" width="87.2" height="60" rx="3" fill="#000"/>
<rect class="ck" x="1409.9" y="601.2" width="3" height="3"/>
<rect class="ck" x="1409.9" y="609.5" width="3" height="3"/>
<rect x="1409.9" y="617.5" width="3" height="3" fill="#fff"/>
<rect class="ck" x="1409.9" y="625.5" width="3" height="3"/>
<g class="pt" font-size="4.5" letter-spacing="1">
<text x="1418.6" y="604.3">STRATIFICATION</text>
<text x="1418.6" y="612.6">MIGRATION</text>
<text x="1418.6" y="620.6">ENVIRONMENT</text>
<text x="1418.6" y="628.6">TECHNOLOGY</text>
</g>
<rect x="1304.9" y="690" width="145.9" height="174" fill="#fff" stroke="#555"/>
<text class="big" x="1328.5" y="729.3" font-size="35">6</text>
<text class="lg" x="1379.6" y="729" font-size="5.8" letter-spacing="1">ITEMS</text>
<g>
<rect class="P" x="1329" y="741.7" width="9.6" height="9"/><rect class="D" x="1344.3" y="741.7" width="9.6" height="9"/>
<rect class="P" x="1329" y="756.7" width="9.6" height="9"/><rect class="D" x="1344.3" y="756.7" width="9.6" height="9"/>
<rect class="D" x="1329" y="771.7" width="9.6" height="9"/>
<rect class="D" x="1329" y="786.7" width="9.6" height="9"/>
</g>
<g transform="translate(1333,820.7)"><circle class="pb" r="4.3"/><path class="P" d="M0,0 L0,-4.3 A4.3,4.3 0 0 1 3.72,2.15 Z"/></g>
<g transform="translate(1333,837.3)"><circle class="pb" r="4.3"/><path class="D" d="M0,0 L0,-4.3 A4.3,4.3 0 1 1 -3.72,2.15 Z"/></g>
<g class="lg" font-size="5.6" letter-spacing="1.3">
<text x="1354.3" y="822.8">2 PEOPLE</text>
<text x="1354.3" y="839.4">4 CENTERS/LABS</text>
</g>
<path class="P" d="M1518.6,687.2 A109,109 0 0 1 1542.6,648.8 L1556.6,662.3 A89.5,89.5 0 0 0 1536.9,693.9 Z"/>
<path class="D" d="M1542.6,800.2 A109,109 0 0 1 1516.8,756.4 L1535.4,750.7 A89.5,89.5 0 0 0 1556.6,786.7 Z"/>
<g transform="translate(1621,724.5)" font-size="6">
<text class="al" transform="rotate(212) translate(115,0) rotate(90)">People</text>
<text class="al" transform="rotate(149.5) translate(115,0) rotate(90)">Centers/Labs</text>
</g>
<g font-size="5.6">
<text class="ln" x="1790.2" y="688.2">1</text><text class="li" x="1799.1" y="688.2">Mia White</text>
<text class="ln" x="1790.2" y="700.6">2</text><text class="li" x="1799.1" y="700.6">Timo Rissanen</text>
<text class="ln" x="1790.2" y="713.2">3</text><text class="li" x="1799.1" y="713.2">New School Social Innovation</text><text class="li" x="1799.1" y="720.9">Initiative</text>
<text class="ln" x="1790.2" y="731.9">4</text><text class="li" x="1799.1" y="731.9">Urban Systems Lab</text>
<text class="ln" x="1790.2" y="743.6">5</text><text class="li" x="1799.1" y="743.6">Tishman Environment</text><text class="li" x="1801" y="751.6">and Design Center</text>
<text class="ln" x="1790.2" y="762.6">6</text><text class="li" x="1799.1" y="762.6">Center for New York City</text><text class="li" x="1799.1" y="770.6">Affairs</text>
</g>
</g>

<!-- CONNECTORS -->
<g id="connectors">
<path class="cn" d="M170,279 H205 M170,299 H205 M205,278.5 V333"/>
<path class="cg" d="M825.6,301.8 H854 M825.6,333.8 H854 M854,301.3 V376.7"/>
<path class="cd" d="M1419.7,174.2 H1461.6 M1419.7,196.7 H1461.6 M1419.7,219.2 H1461.6"/>
<path d="M1419.7,264.2 H1461.6" stroke="#aaa" stroke-width="2" fill="none"/>
<path class="cn" d="M1461.6,174.2 V302.3"/>
<path class="cd" d="M153,681.3 H181"/><path class="cg" d="M181,681.3 V724"/>
<path class="cd" d="M718.7,623.3 H755.5"/><path class="cg" d="M755.5,623.3 V677.3"/>
<path class="cd" d="M1389.7,638.7 H1423.8"/><path class="cg" d="M1423.8,638.7 V690"/>

<path class="lp" d="M358.1,263L382.6,240.2M356.8,264L399,236.8M355.5,265L415.7,236.1M354.2,266.1L432.3,238M352.9,267.1L448.4,242.6M351.6,268.1L463.5,249.7M350.3,269.1L477.3,259.1"/>
<path class="lc" d="M327.5,298.8L489.4,270.6M327.05,299.9L499.6,283.9M326.6,301.1L507.4,298.7M326.15,302.2L512.8,314.5M325.7,303.4L515.6,331M325.25,304.5L515.7,347.7M324.8,305.65L513.1,364.2M324.35,306.8L508,380.1M323.9,307.9L500.3,395M323.45,309.1L490.3,408.4M323,310.2L478.4,420.1M322.55,311.4L464.7,429.7M322.1,312.5L449.6,437"/>
<path class="ld" d="M318.2,346.6L433.6,441.7M319,350.2L417,443.9M319.8,353.9L400.3,443.3M320.6,357.5L383.9,440.1M321.3,361.2L368.2,434.3M322.1,364.8L353.7,426.1M322.9,368.5L340.7,415.7M323.7,372.1L329.5,403.3"/>

<path class="lp" d="M969.3,327.3L995.9,302.4M968.84,327.76L1009.1,299.7M968.38,328.22L1022.5,299.05M967.93,328.68L1035.8,300.6M967.47,329.13L1048.7,304.2M967,329.6L1060.9,309.9M966.55,330.05L1072,317.4M966.1,330.5L1081.7,326.6M965.63,330.97L1089.9,337.2M965.18,331.43L1096.3,349M964.72,331.9L1100.8,361.7M964.26,332.35L1103.1,374.9M963.8,332.8L1103.3,388.3"/>
<path class="lc" d="M947.1,363.6L1101.4,401.6M946.84,365.03L1097.4,414.4M946.59,366.47L1091.4,426.4M946.33,367.9L1083.6,437.3M946.08,369.33L1074.1,446.8M945.82,370.77L1063.3,454.7M945.57,372.2L1051.3,460.7M945.31,373.63L1038.5,464.8M945.06,375.07L1025.3,466.8M944.8,376.5L1011.9,466.7"/>
<path class="ld" d="M947.8,404.9L998.6,464.4M950.25,411L985.9,460M952.7,417.1L974.1,453.7"/>

<path class="lp" d="M1616.5,240.3L1661.5,197.9M1615.38,241.77L1680,194M1614.26,243.23L1698.8,193.1M1613.13,244.7L1717.6,195.2M1612.01,246.17L1735.8,200.3M1610.89,247.63L1752.9,208.2M1609.77,249.1L1768.6,218.8M1608.64,250.57L1782.4,231.7M1607.52,252.03L1793.9,246.6M1606.4,253.5L1802.9,263.2"/>
<path class="lc" d="M1590.4,296.3L1809.1,281.1M1590.3,298.54L1812.5,299.6M1590.2,300.79L1812.8,318.5M1590.1,303.03L1810.1,337.2M1590,305.28L1804.4,355.2M1589.9,307.52L1795.9,372.1M1589.8,309.77L1784.9,387.4M1589.7,312.01L1771.5,400.8M1589.6,314.26L1756.2,411.9M1589.5,316.5L1739.4,420.4"/>
<path class="ld" d="M1597.8,352.3L1721.3,426M1599.7,355.98L1702.7,428.8M1601.6,359.65L1683.8,428.5M1603.5,363.33L1665.2,425.2M1605.4,367L1647.4,418.9"/>

<path class="lp" d="M288.2,681.8L327.9,647.1M287.73,682.49L341.2,645.2M287.26,683.19L354.7,645.4M286.79,683.88L367.9,647.8M286.31,684.57L380.6,652.2M285.84,685.26L392.4,658.7M285.37,685.96L403.1,666.9M284.9,686.65L412.3,676.8M284.43,687.34L419.8,687.9M283.96,688.04L425.4,700.1M283.49,688.73L429,713.1M283.01,689.42L430.5,726.5M282.54,690.11L429.8,739.9M282.07,690.81L427,753.1M281.6,691.5L422.1,765.6"/>
<path class="ld" d="M279.1,761.9L415.3,777.2M280.17,763.64L406.7,787.6M281.24,765.39L396.6,796.5M282.31,767.13L385.1,803.6M283.39,768.87L372.7,808.8M284.46,770.61L359.6,812M285.53,772.36L346.2,813M286.6,774.1L332.8,811.9"/>

<path class="lp" d="M887.1,661.4L1053.7,657.7M886.43,662.45L1061.6,672.9M885.75,663.5L1067,689.2M885.08,664.55L1069.7,706.1M884.4,665.6L1069.6,723.3"/>
<path class="ld" d="M879.8,753.7L1066.7,740.2M881.7,757.35L1061.1,756.4M883.6,761L1052.9,771.5"/>

<path class="lp" d="M1548.6,671.9L1713.3,686.1M1545.1,677.1L1718.3,701.5"/>
<path class="ld" d="M1539.9,762.3L1720.8,717.5M1541.1,764.6L1720.6,733.7M1542.3,767L1717.8,749.7M1543.5,769.3L1712.4,765"/>
</g>

<!-- NODES: chord endpoints -->
<g id="card-1-nodes" class="nd" transform="translate(412,340)" font-size="5.5">
<g transform="rotate(253.6)"><circle cx="104" r="3.3"/><text x="112" y="1.9">1</text></g>
<g transform="rotate(262.82)"><circle cx="104" r="3.3"/><text x="112" y="1.9">2</text></g>
<g transform="rotate(272.04)"><circle cx="104" r="3.3"/><text x="112" y="1.9">3</text></g>
<g transform="rotate(281.26)"><circle cx="104" r="3.3"/><text x="112" y="1.9">4</text></g>
<g transform="rotate(290.48)"><circle cx="104" r="3.3"/><text x="112" y="1.9">5</text></g>
<g transform="rotate(299.7)"><circle cx="104" r="3.3"/><text x="112" y="1.9">6</text></g>
<g transform="rotate(308.92)"><circle cx="104" r="3.3"/><text x="112" y="1.9">7</text></g>
<g transform="rotate(318.14)"><circle cx="104" r="3.3"/><text x="112" y="1.9">8</text></g>
<g transform="rotate(327.36)"><circle cx="104" r="3.3"/><text x="112" y="1.9">9</text></g>
<g transform="rotate(336.58)"><circle cx="104" r="3.3"/><text x="112" y="1.9">10</text></g>
<g transform="rotate(345.8)"><circle cx="104" r="3.3"/><text x="112" y="1.9">11</text></g>
<g transform="rotate(355.02)"><circle cx="104" r="3.3"/><text x="112" y="1.9">12</text></g>
<g transform="rotate(4.24)"><circle cx="104" r="3.3"/><text x="112" y="1.9">13</text></g>
<g transform="rotate(13.46)"><circle cx="104" r="3.3"/><text x="112" y="1.9">14</text></g>
<g transform="rotate(22.68)"><circle cx="104" r="3.3"/><text x="112" y="1.9">15</text></g>
<g transform="rotate(31.9)"><circle cx="104" r="3.3"/><text x="112" y="1.9">16</text></g>
<g transform="rotate(41.12)"><circle cx="104" r="3.3"/><text x="112" y="1.9">17</text></g>
<g transform="rotate(50.34)"><circle cx="104" r="3.3"/><text x="112" y="1.9">18</text></g>
<g transform="rotate(59.56)"><circle cx="104" r="3.3"/><text x="112" y="1.9">19</text></g>
<g transform="rotate(68.78)"><circle cx="104" r="3.3"/><text x="112" y="1.9">20</text></g>
<g transform="rotate(78)"><circle cx="104" r="3.3"/><text x="112" y="1.9">21</text></g>
<g transform="rotate(87.22)"><circle cx="104" r="3.3"/><text x="112" y="1.9">22</text></g>
<g transform="rotate(96.44)"><circle cx="104" r="3.3"/><text x="112" y="1.9">23</text></g>
<g transform="rotate(105.66)"><circle cx="104" r="3.3"/><text x="112" y="1.9">24</text></g>
<g transform="rotate(114.88)"><circle cx="104" r="3.3"/><text x="112" y="1.9">25</text></g>
<g transform="rotate(124.1)"><circle cx="104" r="3.3"/><text x="112" y="1.9">26</text></g>
<g transform="rotate(133.32)"><circle cx="104" r="3.3"/><text x="112" y="1.9">27</text></g>
<g transform="rotate(142.54)"><circle cx="104" r="3.3"/><text x="112" y="1.9">28</text></g>
</g>

<g id="card-2-nodes" class="nd" transform="translate(1019.5,383)" font-size="4.5">
<g transform="rotate(253.7)"><circle cx="84" r="2.8"/><text x="91" y="1.6">1</text></g>
<g transform="rotate(262.86)"><circle cx="84" r="2.8"/><text x="91" y="1.6">2</text></g>
<g transform="rotate(272.02)"><circle cx="84" r="2.8"/><text x="91" y="1.6">3</text></g>
<g transform="rotate(281.18)"><circle cx="84" r="2.8"/><text x="91" y="1.6">4</text></g>
<g transform="rotate(290.34)"><circle cx="84" r="2.8"/><text x="91" y="1.6">5</text></g>
<g transform="rotate(299.5)"><circle cx="84" r="2.8"/><text x="91" y="1.6">6</text></g>
<g transform="rotate(308.66)"><circle cx="84" r="2.8"/><text x="91" y="1.6">7</text></g>
<g transform="rotate(317.82)"><circle cx="84" r="2.8"/><text x="91" y="1.6">8</text></g>
<g transform="rotate(326.98)"><circle cx="84" r="2.8"/><text x="91" y="1.6">9</text></g>
<g transform="rotate(336.14)"><circle cx="84" r="2.8"/><text x="91" y="1.6">10</text></g>
<g transform="rotate(345.3)"><circle cx="84" r="2.8"/><text x="91" y="1.6">11</text></g>
<g transform="rotate(354.46)"><circle cx="84" r="2.8"/><text x="91" y="1.6">12</text></g>
<g transform="rotate(3.62)"><circle cx="84" r="2.8"/><text x="91" y="1.6">13</text></g>
<g transform="rotate(12.78)"><circle cx="84" r="2.8"/><text x="91" y="1.6">14</text></g>
<g transform="rotate(21.94)"><circle cx="84" r="2.8"/><text x="91" y="1.6">15</text></g>
<g transform="rotate(31.1)"><circle cx="84" r="2.8"/><text x="91" y="1.6">16</text></g>
<g transform="rotate(40.26)"><circle cx="84" r="2.8"/><text x="91" y="1.6">17</text></g>
<g transform="rotate(49.42)"><circle cx="84" r="2.8"/><text x="91" y="1.6">18</text></g>
<g transform="rotate(58.58)"><circle cx="84" r="2.8"/><text x="91" y="1.6">19</text></g>
<g transform="rotate(67.74)"><circle cx="84" r="2.8"/><text x="91" y="1.6">20</text></g>
<g transform="rotate(76.9)"><circle cx="84" r="2.8"/><text x="91" y="1.6">21</text></g>
<g transform="rotate(86.06)"><circle cx="84" r="2.8"/><text x="91" y="1.6">22</text></g>
<g transform="rotate(95.22)"><circle cx="84" r="2.8"/><text x="91" y="1.6">23</text></g>
<g transform="rotate(104.38)"><circle cx="84" r="2.8"/><text x="91" y="1.6">24</text></g>
<g transform="rotate(113.54)"><circle cx="84" r="2.8"/><text x="91" y="1.6">25</text></g>
<g transform="rotate(122.7)"><circle cx="84" r="2.8"/><text x="91" y="1.6">26</text></g>
</g>

<g id="card-3-nodes" class="nd" transform="translate(1695,311)" font-size="6.5">
<g transform="rotate(253.5)"><circle cx="118" r="3.8"/><text x="128" y="2.3">1</text></g>
<g transform="rotate(262.68)"><circle cx="118" r="3.8"/><text x="128" y="2.3">2</text></g>
<g transform="rotate(271.86)"><circle cx="118" r="3.8"/><text x="128" y="2.3">3</text></g>
<g transform="rotate(281.04)"><circle cx="118" r="3.8"/><text x="128" y="2.3">4</text></g>
<g transform="rotate(290.22)"><circle cx="118" r="3.8"/><text x="128" y="2.3">5</text></g>
<g transform="rotate(299.4)"><circle cx="118" r="3.8"/><text x="128" y="2.3">6</text></g>
<g transform="rotate(308.58)"><circle cx="118" r="3.8"/><text x="128" y="2.3">7</text></g>
<g transform="rotate(317.76)"><circle cx="118" r="3.8"/><text x="128" y="2.3">8</text></g>
<g transform="rotate(326.94)"><circle cx="118" r="3.8"/><text x="128" y="2.3">9</text></g>
<g transform="rotate(336.12)"><circle cx="118" r="3.8"/><text x="128" y="2.3">10</text></g>
<g transform="rotate(345.3)"><circle cx="118" r="3.8"/><text x="128" y="2.3">11</text></g>
<g transform="rotate(354.48)"><circle cx="118" r="3.8"/><text x="128" y="2.3">12</text></g>
<g transform="rotate(3.66)"><circle cx="118" r="3.8"/><text x="128" y="2.3">13</text></g>
<g transform="rotate(12.84)"><circle cx="118" r="3.8"/><text x="128" y="2.3">14</text></g>
<g transform="rotate(22.02)"><circle cx="118" r="3.8"/><text x="128" y="2.3">15</text></g>
<g transform="rotate(31.2)"><circle cx="118" r="3.8"/><text x="128" y="2.3">16</text></g>
<g transform="rotate(40.38)"><circle cx="118" r="3.8"/><text x="128" y="2.3">17</text></g>
<g transform="rotate(49.56)"><circle cx="118" r="3.8"/><text x="128" y="2.3">18</text></g>
<g transform="rotate(58.74)"><circle cx="118" r="3.8"/><text x="128" y="2.3">19</text></g>
<g transform="rotate(67.92)"><circle cx="118" r="3.8"/><text x="128" y="2.3">20</text></g>
<g transform="rotate(77.1)"><circle cx="118" r="3.8"/><text x="128" y="2.3">21</text></g>
<g transform="rotate(86.28)"><circle cx="118" r="3.8"/><text x="128" y="2.3">22</text></g>
<g transform="rotate(95.46)"><circle cx="118" r="3.8"/><text x="128" y="2.3">23</text></g>
<g transform="rotate(104.64)"><circle cx="118" r="3.8"/><text x="128" y="2.3">24</text></g>
<g transform="rotate(113.82)"><circle cx="118" r="3.8"/><text x="128" y="2.3">25</text></g>
</g>

<g id="card-4-nodes" class="nd" transform="translate(346.5,729)" font-size="4.5">
<g transform="rotate(257.2)"><circle cx="84" r="2.8"/><text x="91" y="1.6">1</text></g>
<g transform="rotate(266.39)"><circle cx="84" r="2.8"/><text x="91" y="1.6">2</text></g>
<g transform="rotate(275.58)"><circle cx="84" r="2.8"/><text x="91" y="1.6">3</text></g>
<g transform="rotate(284.77)"><circle cx="84" r="2.8"/><text x="91" y="1.6">4</text></g>
<g transform="rotate(293.96)"><circle cx="84" r="2.8"/><text x="91" y="1.6">5</text></g>
<g transform="rotate(303.15)"><circle cx="84" r="2.8"/><text x="91" y="1.6">6</text></g>
<g transform="rotate(312.34)"><circle cx="84" r="2.8"/><text x="91" y="1.6">7</text></g>
<g transform="rotate(321.53)"><circle cx="84" r="2.8"/><text x="91" y="1.6">8</text></g>
<g transform="rotate(330.72)"><circle cx="84" r="2.8"/><text x="91" y="1.6">9</text></g>
<g transform="rotate(339.91)"><circle cx="84" r="2.8"/><text x="91" y="1.6">10</text></g>
<g transform="rotate(349.1)"><circle cx="84" r="2.8"/><text x="91" y="1.6">11</text></g>
<g transform="rotate(358.29)"><circle cx="84" r="2.8"/><text x="91" y="1.6">12</text></g>
<g transform="rotate(7.48)"><circle cx="84" r="2.8"/><text x="91" y="1.6">13</text></g>
<g transform="rotate(16.67)"><circle cx="84" r="2.8"/><text x="91" y="1.6">14</text></g>
<g transform="rotate(25.86)"><circle cx="84" r="2.8"/><text x="91" y="1.6">15</text></g>
<g transform="rotate(35.05)"><circle cx="84" r="2.8"/><text x="91" y="1.6">16</text></g>
<g transform="rotate(44.24)"><circle cx="84" r="2.8"/><text x="91" y="1.6">17</text></g>
<g transform="rotate(53.43)"><circle cx="84" r="2.8"/><text x="91" y="1.6">18</text></g>
<g transform="rotate(62.62)"><circle cx="84" r="2.8"/><text x="91" y="1.6">19</text></g>
<g transform="rotate(71.81)"><circle cx="84" r="2.8"/><text x="91" y="1.6">20</text></g>
<g transform="rotate(81)"><circle cx="84" r="2.8"/><text x="91" y="1.6">21</text></g>
<g transform="rotate(90.19)"><circle cx="84" r="2.8"/><text x="91" y="1.6">22</text></g>
<g transform="rotate(99.38)"><circle cx="84" r="2.8"/><text x="91" y="1.6">23</text></g>
</g>

<g id="card-5-nodes" class="nd" transform="translate(965,714)" font-size="5.5">
<g transform="rotate(327.6)"><circle cx="105" r="3.2"/><text x="113" y="1.9">1</text></g>
<g transform="rotate(336.97)"><circle cx="105" r="3.2"/><text x="113" y="1.9">2</text></g>
<g transform="rotate(346.34)"><circle cx="105" r="3.2"/><text x="113" y="1.9">3</text></g>
<g transform="rotate(355.71)"><circle cx="105" r="3.2"/><text x="113" y="1.9">4</text></g>
<g transform="rotate(5.08)"><circle cx="105" r="3.2"/><text x="113" y="1.9">5</text></g>
<g transform="rotate(14.45)"><circle cx="105" r="3.2"/><text x="113" y="1.9">6</text></g>
<g transform="rotate(23.82)"><circle cx="105" r="3.2"/><text x="113" y="1.9">7</text></g>
<g transform="rotate(33.19)"><circle cx="105" r="3.2"/><text x="113" y="1.9">8</text></g>
</g>

<g id="card-6-nodes" class="nd" transform="translate(1621,724.5)" font-size="5.5">
<g transform="rotate(337.4)"><circle cx="100" r="3.2"/><text x="108" y="1.9">1</text></g>
<g transform="rotate(346.7)"><circle cx="100" r="3.2"/><text x="108" y="1.9">2</text></g>
<g transform="rotate(356)"><circle cx="100" r="3.2"/><text x="108" y="1.9">3</text></g>
<g transform="rotate(5.3)"><circle cx="100" r="3.2"/><text x="108" y="1.9">4</text></g>
<g transform="rotate(14.6)"><circle cx="100" r="3.2"/><text x="108" y="1.9">5</text></g>
<g transform="rotate(23.9)"><circle cx="100" r="3.2"/><text x="108" y="1.9">6</text></g>
</g>
</svg>
